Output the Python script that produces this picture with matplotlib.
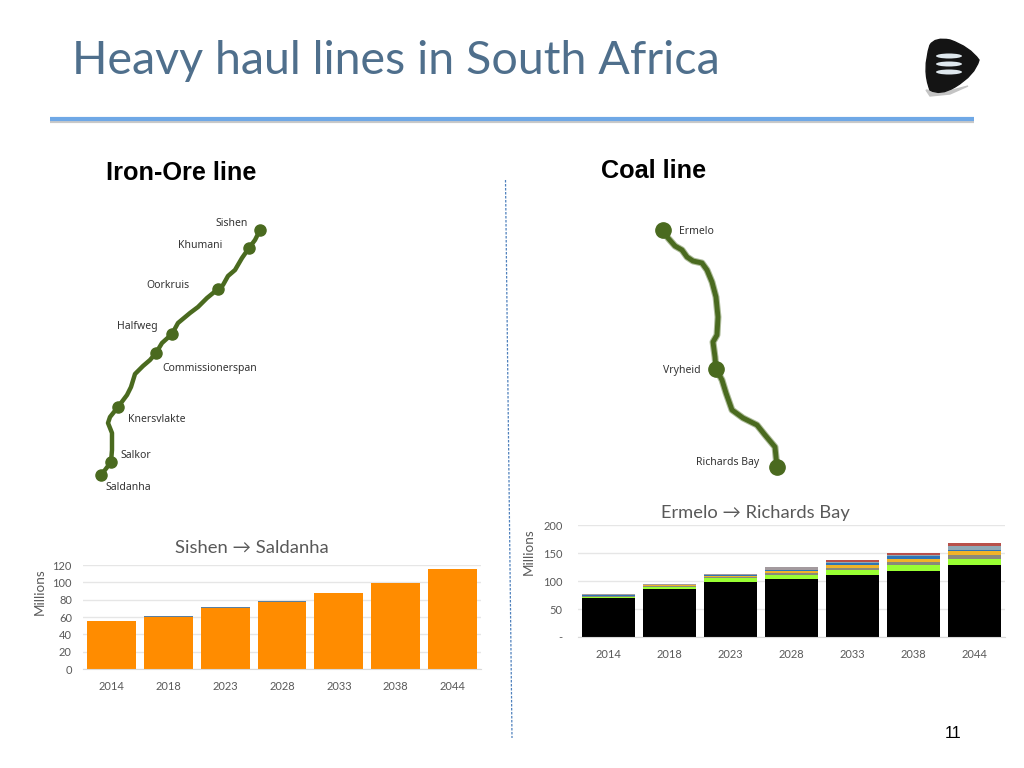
import numpy as np
import matplotlib
matplotlib.use('Agg')
import matplotlib.pyplot as plt
from matplotlib.patches import Polygon, Ellipse, PathPatch
from matplotlib.path import Path

years = ['2014', '2018', '2023', '2028', '2033', '2038', '2044']

# Sishen - Saldanha, millions
iron_main = [55, 59.7, 70.5, 77.8, 87.7, 99.0, 115]
iron_top = [0.3, 1.9, 1.2, 0.3, 0.4, 0.6, 0.2]

# Ermelo - Richards Bay, millions
coal_black = [69, 85, 97.5, 103, 110.5, 118, 129]
coal_green = [3, 4, 8.5, 8, 9.5, 10, 11]
coal_gray = [1.5, 2.5, 2, 3.5, 3.5, 6, 7]
coal_yellow = [0.5, 1, 1, 3, 4.5, 4.5, 6]
coal_blue = [0.5, 1, 1.5, 2.5, 4, 5.5, 3]
coal_mauve = [2, 1.5, 2.5, 5, 1, 0.5, 0]
coal_light = [0, 0, 0, 0, 1.5, 2.5, 6]
coal_red = [0, 0, 0, 0, 2.5, 3, 5]

coal_series = [coal_black, coal_green, coal_gray, coal_yellow, coal_blue, coal_mauve, coal_light, coal_red]
coal_colors = ['#000000', '#99ff33', '#8a8a7a', '#f0b429', '#2e75b6', '#a39a9e', '#8fa8b5', '#b8504a']

# map lines in pixels
iron_x = [260, 255, 249, 242, 235, 228, 223, 218, 207, 198, 190, 178, 172, 162, 156, 150, 143, 135, 131, 127, 118, 110, 108, 112, 112, 111, 105, 101]
iron_y = [230, 240, 248, 258, 270, 276, 285, 289, 298, 307, 313, 323, 334, 343, 353, 360, 366, 374, 387, 395, 407, 417, 423, 433, 450, 462, 470, 475]
iron_stops = [0, 2, 7, 12, 14, 20, 25, 27]
iron_names = ['Sishen', 'Khumani', 'Oorkruis', 'Halfweg', 'Commissionerspan', 'Knersvlakte', 'Salkor', 'Saldanha']
iron_label_x = [232, 200, 168, 137, 210, 157, 136, 128]
iron_label_y = [224, 245, 285, 326, 368, 420, 455, 487]

coal_x = [663, 668, 675, 682, 687, 693, 702, 707, 712, 716, 718, 717, 713, 715, 716, 722, 726, 732, 743, 757, 765, 775, 777]
coal_y = [230, 238, 246, 250, 257, 261, 263, 270, 282, 297, 317, 335, 342, 357, 369, 380, 393, 410, 418, 425, 435, 447, 467]
coal_stops = [0, 14, 22]
coal_names = ['Ermelo', 'Vryheid', 'Richards Bay']
coal_label_x = [696, 682, 728]
coal_label_y = [232, 371, 463]

logo_x = [930, 935, 950, 970, 979, 975, 955, 940, 930, 922, 930]
logo_y = [45, 37, 40, 47, 60, 75, 87, 96, 90, 70, 45]

plt.rcParams['font.family'] = ['Lato', 'DejaVu Sans']
GREY = '#595959'
GREEN = '#4a6a1f'

fig = plt.figure(figsize=(10.24, 7.68), dpi=100)

def px_axes(x0, y0, x1, y1):
    # y0 top, y1 bottom, in slide pixels
    return fig.add_axes([x0/1024, 1-y1/768, (x1-x0)/1024, (y1-y0)/768])

def style(ax, ymax, step, ypad):
    ax.set_xlim(-0.5, 6.5)
    ax.set_ylim(0, ymax)
    ax.set_yticks(np.arange(0, ymax+1, step))
    ax.grid(axis='y', color='#e6e6e6', lw=1)
    ax.set_axisbelow(True)
    for s in ['top', 'left', 'right']:
        ax.spines[s].set_visible(False)
    ax.spines['bottom'].set_color('#d9d9d9')
    ax.tick_params(length=0, labelsize=8, labelcolor=GREY)
    ax.tick_params(axis='x', pad=9)
    ax.tick_params(axis='y', pad=ypad)
    ax.patch.set_alpha(0)

ax1 = px_axes(83, 565, 481, 669)
x = np.arange(len(years))
ax1.bar(x, iron_main, 0.86, color='#ff8c00')
ax1.bar(x, iron_top, 0.86, bottom=iron_main, color='#5a7fa0')
ax1.set_xticks(x, years)
style(ax1, 120, 20, 8)

ax2 = px_axes(578, 525, 1005, 637)
bottom = np.zeros(len(years))
for vals, col in zip(coal_series, coal_colors):
    ax2.bar(x, vals, 0.87, bottom=bottom, color=col)
    bottom = bottom + np.array(vals)
ax2.set_xticks(x, years)
style(ax2, 200, 50, 11)
ax2.set_yticklabels(['-', '50', '100', '150', '200'])

# everything else goes on a slide sized overlay
ov = fig.add_axes([0, 0, 1, 1])
ov.set_xlim(0, 1024)
ov.set_ylim(768, 0)
ov.axis('off')
ov.patch.set_alpha(0)

ov.text(72, 61, 'Heavy haul lines in South Africa', fontsize=33.6, color='#4f6f8c', va='center', ha='left')
ov.plot([50, 974], [120.5, 120.5], color='#c9c9c9', lw=3, solid_capstyle='butt')
ov.plot([50, 974], [118.5, 118.5], color='#6fa8e6', lw=3, solid_capstyle='butt')

ov.add_patch(Polygon(np.c_[[926, 945, 968, 950, 930], [90, 92, 86, 94, 96]], closed=True, fc='#c4c4c4', ec='#c4c4c4', lw=1))
codes = [Path.MOVETO] + [Path.CURVE3]*10
ov.add_patch(PathPatch(Path(np.c_[logo_x, logo_y], codes), fc='#141414', ec='#141414', lw=1))
for yy in [56, 64, 72]:
    ov.add_patch(Ellipse((949, yy), 26, 5, fc='#dfe8ee', ec='none'))

ov.text(181.5, 173.5, 'Iron-Ore line', fontsize=18.2, fontweight='bold', family='Liberation Sans', ha='center', va='center', color='black')
ov.text(654, 171.5, 'Coal line', fontsize=18.2, fontweight='bold', family='Liberation Sans', ha='center', va='center', color='black')

ov.plot([505.5, 512], [180, 738], color='#4f81bd', lw=0.9, ls=(0, (2, 1.2)))

ov.plot(iron_x, iron_y, color=GREEN, lw=3.2, solid_joinstyle='round')
ov.plot(np.array(iron_x)[iron_stops], np.array(iron_y)[iron_stops], 'o', color=GREEN, ms=8)
for n, lx, ly in zip(iron_names, iron_label_x, iron_label_y):
    ov.text(lx, ly, n, fontsize=7.5, family='Noto Sans', color='#333333', ha='center', va='center')

ov.plot(coal_x, coal_y, color=GREEN, lw=5, alpha=0.45, solid_joinstyle='round')
ov.plot(coal_x, coal_y, color=GREEN, lw=3.5, solid_joinstyle='round')
ov.plot(np.array(coal_x)[coal_stops], np.array(coal_y)[coal_stops], 'o', color=GREEN, ms=11)
for n, lx, ly in zip(coal_names, coal_label_x, coal_label_y):
    ov.text(lx, ly, n, fontsize=7.5, family='Noto Sans', color='#333333', ha='center', va='center')

ov.text(252, 548, 'Sishen \u2192 Saldanha', fontsize=13.3, color=GREY, ha='center', va='center')
ov.text(755.5, 513, 'Ermelo \u2192 Richards Bay', fontsize=13.2, color=GREY, ha='center', va='center')
ov.text(40, 592, 'Millions', fontsize=9.7, color=GREY, rotation=90, ha='center', va='center')
ov.text(529, 552, 'Millions', fontsize=9.7, color=GREY, rotation=90, ha='center', va='center')
ov.text(953, 734, '11', fontsize=11.5, family='Liberation Sans', color='black', ha='center', va='center')

fig.savefig('out.png', dpi=100)
